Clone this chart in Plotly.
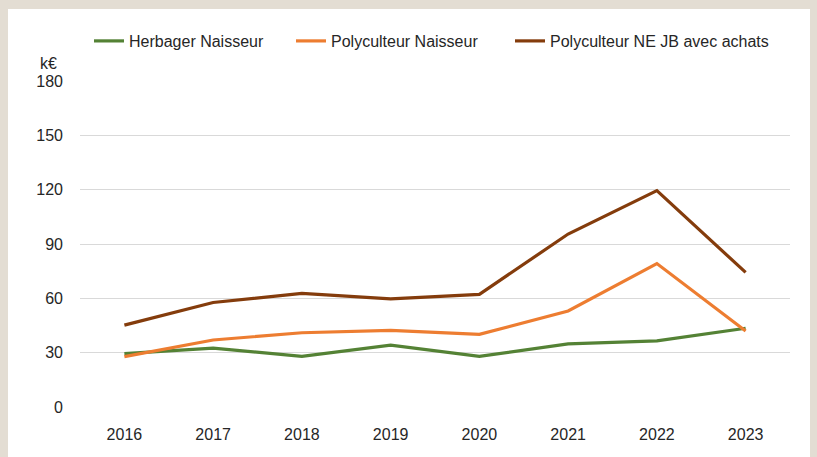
import plotly.graph_objects as go

years = ["2016", "2017", "2018", "2019", "2020", "2021", "2022", "2023"]
herbager = [29.5, 32.5, 28.0, 34.2, 28.0, 34.8, 36.5, 43.5]
poly_naisseur = [27.8, 37.0, 41.0, 42.3, 40.1, 53.0, 79.2, 42.0]
poly_ne_jb = [45.2, 57.7, 62.7, 59.7, 62.2, 95.5, 119.5, 74.3]
y_ticks = [0, 30, 60, 90, 120, 150, 180]

names = ["Herbager Naisseur", "Polyculteur Naisseur", "Polyculteur NE JB avec achats"]
colors = ["#548235", "#ED7D31", "#843C0C"]
series = [herbager, poly_naisseur, poly_ne_jb]
legend_ids = ["legend", "legend2", "legend3"]

FONT = "Liberation Sans, Arial, sans-serif"
TXT = "#262626"

L, R, T, B = 80, 27, 81, 50
W, H = 817, 457
pw, ph = W - L - R, H - T - B

def px_x(p):
    return (p - L) / pw

def px_y(p):
    return (H - B - p) / ph

fig = go.Figure()
for n, c, s, lg in zip(names, colors, series, legend_ids):
    fig.add_trace(go.Scatter(x=years, y=s, name=n, mode="lines", legend=lg,
                             line=dict(color=c, width=3.2)))

fig.add_shape(type="rect", xref="paper", yref="paper",
              x0=px_x(8), x1=px_x(810), y0=px_y(470), y1=px_y(9),
              fillcolor="white", line=dict(width=0), layer="below")

fig.add_annotation(text="k€", xref="paper", yref="paper",
                   x=px_x(38), y=px_y(63), xanchor="left", yanchor="middle",
                   showarrow=False, font=dict(size=16, color=TXT, family=FONT))

legend_x = [89, 291, 510]
legend_common = dict(orientation="h", xanchor="left", yanchor="middle",
                     bgcolor="rgba(0,0,0,0)", font=dict(size=16, color=TXT, family=FONT),
                     itemwidth=30)
layout_legends = {}
for lg, lx in zip(legend_ids, legend_x):
    layout_legends[lg] = dict(legend_common, x=px_x(lx), y=px_y(41))

fig.update_layout(
    width=W, height=H,
    margin=dict(l=L, r=R, t=T, b=B, autoexpand=False),
    paper_bgcolor="#E3DDD3",
    plot_bgcolor="white",
    font=dict(family=FONT, size=16, color=TXT),
    showlegend=True,
    hovermode=False,
    xaxis=dict(type="category", range=[-0.5, 7.5], showgrid=False, zeroline=False,
               showline=False, ticks="", tickfont=dict(size=16), ticklabelstandoff=16),
    yaxis=dict(range=[0, 180], tickvals=y_ticks, showgrid=True, gridcolor="#D9D9D9",
               gridwidth=1, zeroline=False, showline=False, ticks="",
               tickfont=dict(size=16), ticklabelstandoff=16),
    **layout_legends,
)

fig.write_html("out.html", config={"displayModeBar": False},
               post_script="document.body.style.margin='0';document.body.style.overflow='hidden';")
